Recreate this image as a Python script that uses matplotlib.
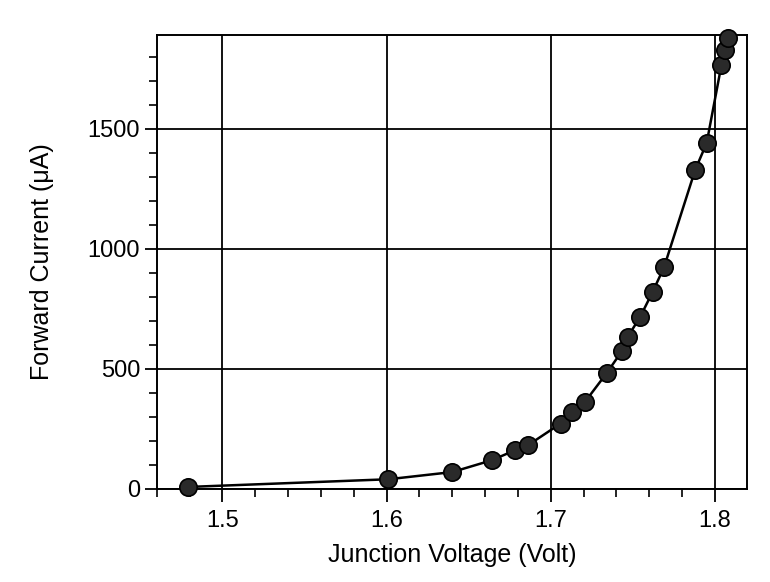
import numpy as np
import matplotlib.pyplot as plt
from matplotlib.ticker import MultipleLocator

# Forward I-V data
voltage = [1.479, 1.601, 1.640, 1.664, 1.678, 1.686, 1.706, 1.713, 1.7206,
           1.734, 1.7436, 1.747, 1.7545, 1.762, 1.769, 1.788, 1.795,
           1.804, 1.806, 1.808]
current = [8, 40, 70, 119, 160, 181, 272, 320, 360,
           481, 576, 634, 716, 819, 922, 1328, 1440,
           1765, 1827, 1876]

plt.rcParams['font.family'] = ['Liberation Sans', 'DejaVu Sans']

fig = plt.figure(figsize=(7.7, 5.82), dpi=100)
ax = fig.add_axes([0.2035, 0.16, 0.7665, 0.78])

ax.plot(voltage, current, color='black', linewidth=1.8, zorder=3)
ax.plot(voltage, current, linestyle='none', marker='o', markersize=12.5,
        markerfacecolor='#2a2a2a', markeredgecolor='black',
        markeredgewidth=1.2, zorder=4, clip_on=False)

ax.set_xlim(1.46, 1.8195)
ax.set_ylim(0, 1890)

ax.xaxis.set_major_locator(MultipleLocator(0.1))
ax.xaxis.set_minor_locator(MultipleLocator(0.02))
ax.yaxis.set_major_locator(MultipleLocator(500))
ax.yaxis.set_minor_locator(MultipleLocator(100))
ax.xaxis.set_major_formatter(plt.FuncFormatter(lambda v, p: f'{v:.1f}'))

ax.grid(True, which='major', color='black', linewidth=1.3)
ax.set_axisbelow(True)

for s in ax.spines.values():
    s.set_linewidth(1.4)
    s.set_color('black')

ax.tick_params(which='major', direction='out', length=9, width=1.3,
               labelsize=17, pad=3)
ax.tick_params(which='minor', direction='out', length=6, width=1.2)
ax.tick_params(axis='x', which='major', pad=6)

ax.set_xlabel('Junction Voltage (Volt)', fontsize=18, labelpad=8)
ax.set_ylabel('Forward Current (μA)', fontsize=18, labelpad=24)

fig.savefig('out.png', dpi=100)
